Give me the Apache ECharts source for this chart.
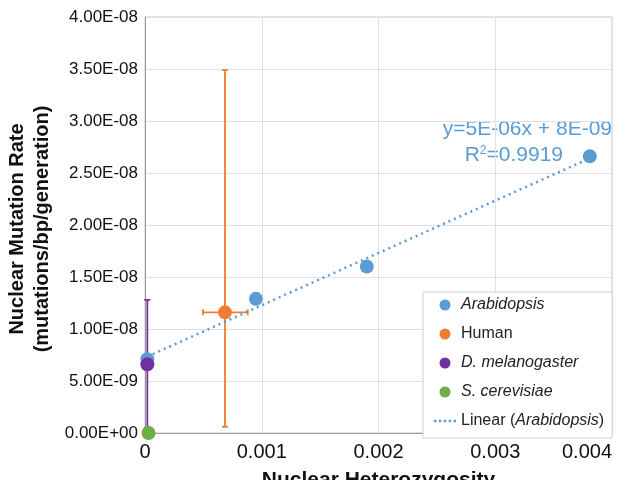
<!DOCTYPE html>
<html><head><meta charset="utf-8">
<script src="https://cdn.jsdelivr.net/npm/echarts@6/dist/echarts.min.js"></script>
<style>html,body{margin:0;padding:0;background:#fff}#c{width:626px;height:480px}</style>
</head><body><div id="c"></div>
<script>
var arabidopsisX = [0.00002, 0.00095, 0.0019, 0.00381];
var arabidopsisY = [7.1e-9, 1.29e-8, 1.6e-8, 2.66e-8];
var humanX = [0.000685];
var humanY = [1.16e-8];
var humanYLow = [0.06e-8];
var humanYHigh = [3.49e-8];
var humanXLow = [0.000497];
var humanXHigh = [0.00088];
var melanoX = [0.00002];
var melanoY = [6.6e-9];
var melanoYLow = [0.05e-8];
var melanoYHigh = [1.28e-8];
var cerevisiaeX = [0.00003];
var cerevisiaeY = [0];
var legendNames = ['Arabidopsis', 'Human', 'D. melanogaster', 'S. cerevisiae', 'Linear (Arabidopsis)'];
var xTicks = [0, 0.001, 0.002, 0.003, 0.004];
var yTicksMax = 4e-8, yTickStep = 5e-9;
var equationText = 'y=5E-06x + 8E-09';
var r2Text = '0.9919';

var C = {blue:'#5b9bd5', orange:'#ed7d31', purple:'#7030a0', green:'#70ad47'};

function fmtE(v){
  if (v === 0) return '0.00E+00';
  var s = v.toExponential(2).toUpperCase();
  var m = s.split('E');
  var e = parseInt(m[1],10);
  var sign = e < 0 ? '-' : '+';
  var a = Math.abs(e);
  return m[0] + 'E' + sign + (a < 10 ? '0' + a : a);
}
function zip(xs, ys){ return xs.map(function(x,i){return [x, ys[i]];}); }

// least squares fit for Arabidopsis trendline
var n = arabidopsisX.length, sx=0, sy=0, sxx=0, sxy=0;
for (var i=0;i<n;i++){ sx+=arabidopsisX[i]; sy+=arabidopsisY[i]; sxx+=arabidopsisX[i]*arabidopsisX[i]; sxy+=arabidopsisX[i]*arabidopsisY[i]; }
var slope = (n*sxy - sx*sy)/(n*sxx - sx*sx);
var icpt = (sy - slope*sx)/n;
var trendXs = [arabidopsisX[0], arabidopsisX[n-1]];
var trendData = trendXs.map(function(x){return [x, icpt + slope*x];});

function errRender(params, api){
  var x = api.value(0), y = api.value(1);
  var yl = api.value(2), yh = api.value(3), xl = api.value(4), xh = api.value(5);
  var color = api.value(6) === 1 ? C.orange : C.purple;
  var ch = [];
  var st = {stroke: color, lineWidth: 1.8};
  var p1 = api.coord([x, yl]), p2 = api.coord([x, yh]);
  ch.push({type:'line', shape:{x1:p1[0],y1:p1[1],x2:p2[0],y2:p2[1]}, style:st});
  ch.push({type:'line', shape:{x1:p1[0]-3,y1:p1[1],x2:p1[0]+3,y2:p1[1]}, style:st});
  ch.push({type:'line', shape:{x1:p2[0]-3,y1:p2[1],x2:p2[0]+3,y2:p2[1]}, style:st});
  if (!isNaN(xl)) {
    var q1 = api.coord([xl, y]), q2 = api.coord([xh, y]);
    ch.push({type:'line', shape:{x1:q1[0],y1:q1[1],x2:q2[0],y2:q2[1]}, style:st});
    ch.push({type:'line', shape:{x1:q1[0],y1:q1[1]-3,x2:q1[0],y2:q1[1]+3}, style:st});
    ch.push({type:'line', shape:{x1:q2[0],y1:q2[1]-3,x2:q2[0],y2:q2[1]+3}, style:st});
  }
  return {type:'group', children: ch};
}

var errData = [
  [humanX[0], humanY[0], humanYLow[0], humanYHigh[0], humanXLow[0], humanXHigh[0], 1],
  [melanoX[0], melanoY[0], melanoYLow[0], melanoYHigh[0], NaN, NaN, 2]
];

var chart = echarts.init(document.getElementById('c'));
var font = 'Liberation Sans, Arial, sans-serif';
chart.setOption({
  animation: false,
  textStyle: {fontFamily: font},
  grid: {left: 145, top: 17, right: 14, bottom: 47, show: true, borderColor: '#c8c8c8', borderWidth: 1,
         containLabel: false, outerBoundsMode: 'none'},
  xAxis: {
    type: 'value', min: 0, max: 0.004, interval: 0.001,
    axisLine: {show: true, onZero: false, lineStyle: {color: '#9a9a9a'}},
    axisTick: {show: false},
    splitLine: {show: true, lineStyle: {color: '#e0e0e0'}},
    axisLabel: {color: '#111', fontSize: 20, margin: 9, alignMaxLabel: 'right',
      formatter: function(v){return String(v);}},
    name: 'Nuclear Heterozygosity', nameLocation: 'middle', nameGap: 37,
    nameTextStyle: {fontSize: 21, fontWeight: 'bold', color: '#111'}
  },
  yAxis: {
    type: 'value', min: 0, max: yTicksMax, interval: yTickStep,
    axisLine: {show: true, lineStyle: {color: '#9a9a9a'}},
    axisTick: {show: false},
    splitLine: {show: true, lineStyle: {color: '#e0e0e0'}},
    axisLabel: {color: '#111', fontSize: 17, margin: 7, formatter: fmtE}
  },
  legend: {
    show: true, orient: 'vertical', left: 423, top: 292,
    padding: [5, 8, 9, 11], itemGap: 13, itemWidth: 22, itemHeight: 11,
    backgroundColor: '#fff', borderColor: '#cfcfcf', borderWidth: 1,
    textStyle: {fontSize: 16, color: '#222', fontFamily: font,
      rich: {i: {fontStyle: 'italic', fontSize: 16, color: '#222'}, n: {fontSize: 16, color: '#222'}}},
    formatter: function(name){
      if (name === 'Human') return '{n|Human}';
      if (name === 'Linear (Arabidopsis)') return '{n|Linear (}{i|Arabidopsis}{n|)}';
      return '{i|' + name + '}';
    },
    data: [
      {name: legendNames[0], icon: 'circle'},
      {name: legendNames[1], icon: 'circle'},
      {name: legendNames[2], icon: 'circle'},
      {name: legendNames[3], icon: 'circle'},
      {name: legendNames[4], icon: 'path://M0,5h2v2h-2zM4,5h2v2h-2zM8,5h2v2h-2zM12,5h2v2h-2zM16,5h2v2h-2z', itemStyle: {color: C.blue}}
    ]
  },
  series: [
    {name: legendNames[4], type: 'line', data: trendData, symbol: 'none', z: 3,
     lineStyle: {color: C.blue, width: 2.5, type: [2, 4]}, itemStyle: {color: C.blue}},
    {name: 'err', type: 'custom', renderItem: errRender, data: errData, z: 2, silent: true},
    {name: legendNames[0], type: 'scatter', data: zip(arabidopsisX, arabidopsisY), symbolSize: 14, itemStyle: {color: C.blue, opacity: 1}, z: 4},
    {name: legendNames[1], type: 'scatter', data: zip(humanX, humanY), symbolSize: 14, itemStyle: {color: C.orange, opacity: 1}, z: 4},
    {name: legendNames[2], type: 'scatter', data: zip(melanoX, melanoY), symbolSize: 14, itemStyle: {color: C.purple, opacity: 1}, z: 4},
    {name: legendNames[3], type: 'scatter', data: zip(cerevisiaeX, cerevisiaeY), symbolSize: 14, itemStyle: {color: C.green, opacity: 1}, z: 4}
  ],
  graphic: [
    {type: 'text', x: 30, y: 229, rotation: Math.PI/2,
     style: {text: 'Nuclear Mutation Rate\n(mutations/bp/generation)', align: 'center', verticalAlign: 'middle',
       font: 'bold 20px ' + font, fill: '#111', lineHeight: 25}},
    {type: 'text', x: 612, y: 129,
     style: {text: equationText, align: 'right', verticalAlign: 'middle', font: '21px ' + font, fill: C.blue}},
    {type: 'text', x: 563, y: 155,
     style: {text: 'R{s|2}=' + r2Text, align: 'right', verticalAlign: 'middle', font: '21px ' + font, fill: C.blue,
       rich: {s: {fontSize: 12, verticalAlign: 'top', fill: C.blue, padding: [0,0,9,0]}}}}
  ]
});
</script></body></html>
